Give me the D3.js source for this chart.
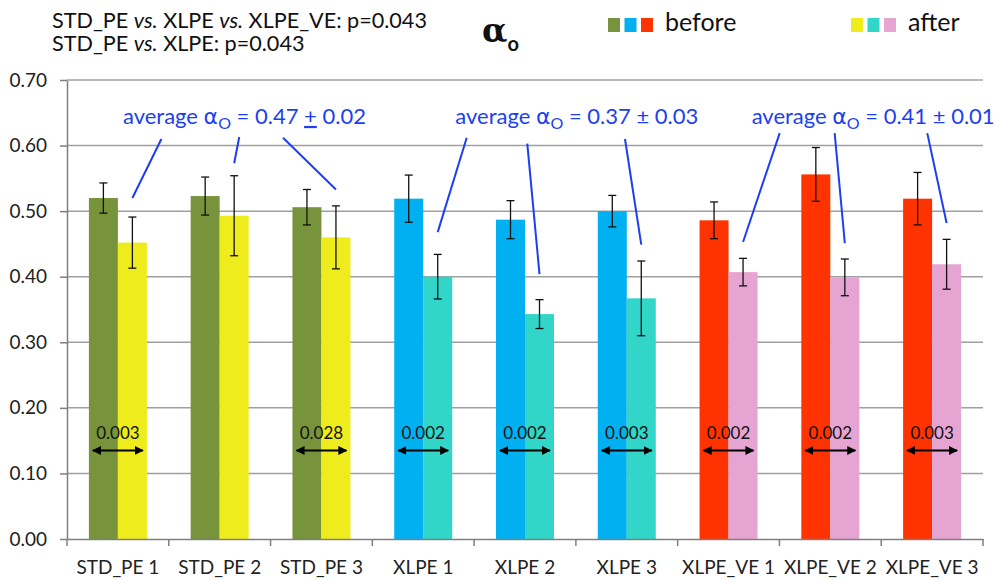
<!DOCTYPE html>
<html>
<head>
<meta charset="utf-8">
<script src="https://cdn.jsdelivr.net/npm/d3@7"></script>
<style>
  html, body { margin: 0; padding: 0; background: #fff; }
  svg { display: block; font-family: Lato, "Open Sans", sans-serif; }
</style>
</head>
<body>
<svg id="chart" width="994" height="580"></svg>
<script>
// ---------- data ----------
const categories = ["STD_PE 1","STD_PE 2","STD_PE 3","XLPE 1","XLPE 2","XLPE 3","XLPE_VE 1","XLPE_VE 2","XLPE_VE 3"];
const families   = ["STD_PE","STD_PE","STD_PE","XLPE","XLPE","XLPE","XLPE_VE","XLPE_VE","XLPE_VE"];
const beforeValues = [0.520, 0.523, 0.506, 0.519, 0.487, 0.500, 0.486, 0.556, 0.519];
const beforeErrors = [0.023, 0.029, 0.027, 0.036, 0.029, 0.024, 0.028, 0.041, 0.040];
const afterValues  = [0.452, 0.493, 0.460, 0.400, 0.343, 0.367, 0.407, 0.399, 0.419];
const afterErrors  = [0.039, 0.061, 0.048, 0.034, 0.022, 0.057, 0.021, 0.028, 0.038];
const pValues = ["0.003", null, "0.028", "0.002", "0.002", "0.003", "0.002", "0.002", "0.003"];
const yTicks = [0, 0.1, 0.2, 0.3, 0.4, 0.5, 0.6, 0.7];
const seriesNames = ["before", "after"];
const beforeColors = {STD_PE: "#77933C", XLPE: "#00B0F0", XLPE_VE: "#FF3300"};
const afterColors  = {STD_PE: "#EFEC1E", XLPE: "#31D6C8", XLPE_VE: "#E6A4D2"};
const averageLabels = [
  {family: "STD_PE",  anchor: "STD_PE 1",  value: "0.47", sd: "0.02", underlinePlus: true},
  {family: "XLPE",    anchor: "XLPE 1",    value: "0.37", sd: "0.03", underlinePlus: false},
  {family: "XLPE_VE", anchor: "XLPE_VE 1", value: "0.41", sd: "0.01", underlinePlus: false}
];
// leader lines: end value (data units) near after bar, start value near label
const leaderEndValues   = [0.520, 0.573, 0.533, 0.468, 0.404, 0.449, 0.453, 0.451, 0.482];
const leaderStartValues = [0.610, 0.613, 0.612, 0.612, 0.603, 0.610, 0.619, 0.619, 0.619];
const leaderStartShift  = [0.285, 0.05, -0.52, 0.285, -0.12, -0.16, 0.36, -0.10, -0.19];
const labelStartShift   = [0.55, 0.815, 0.727];

// ---------- layout ----------
const svg = d3.select("#chart");
const mLeft = 67, mRight = 983, mTop = 80, mBottom = 539;

const x = d3.scaleBand().domain(categories).range([mLeft, mRight]).padding(0);
const xi = d3.scaleBand().domain(seriesNames).range([0, x.bandwidth()]).paddingInner(0).paddingOuter(0.755);
const y = d3.scaleLinear().domain([0, 0.7]).range([mBottom, mTop]);

// gridlines
svg.append("g").selectAll("line").data(yTicks.filter(d => d > 0)).join("line")
  .attr("x1", mLeft).attr("x2", mRight)
  .attr("y1", d => y(d)).attr("y2", d => y(d))
  .attr("stroke", "#a0a0a0").attr("stroke-width", 1.5);

// y axis
const yAxis = svg.append("g").attr("transform", `translate(${mLeft},0)`)
  .call(d3.axisLeft(y).tickValues(yTicks).tickFormat(d3.format(".2f")).tickSize(7).tickSizeOuter(0));
yAxis.select(".domain").attr("stroke", "#7f7f7f").attr("stroke-width", 1.5);
yAxis.selectAll(".tick line").attr("stroke", "#7f7f7f").attr("stroke-width", 1.5);
yAxis.selectAll(".tick text").attr("font-size", 19).attr("fill", "#222").attr("x", -20)
  .style("font-family", "Lato, sans-serif");

// bars
const rows = categories.map((c, i) => ({
  cat: c, fam: families[i],
  vals: [
    {s: "before", v: beforeValues[i], e: beforeErrors[i], col: beforeColors[families[i]]},
    {s: "after",  v: afterValues[i],  e: afterErrors[i],  col: afterColors[families[i]]}
  ]
}));

const groups = svg.append("g").selectAll("g").data(rows).join("g")
  .attr("transform", d => `translate(${x(d.cat)},0)`);

groups.selectAll("rect").data(d => d.vals).join("rect")
  .attr("x", d => xi(d.s)).attr("width", xi.bandwidth())
  .attr("y", d => y(d.v)).attr("height", d => y(0) - y(d.v))
  .attr("fill", d => d.col);

// x axis (drawn after bars)
const xAxis = svg.append("g").attr("transform", `translate(0,${mBottom})`)
  .call(d3.axisBottom(x).tickSize(0).tickPadding(0));
xAxis.select(".domain").attr("stroke", "#7f7f7f").attr("stroke-width", 1.5);
xAxis.selectAll(".tick text").attr("font-size", 19).attr("fill", "#222").attr("dy", 0).attr("y", 35)
  .style("font-family", "Lato, sans-serif");
const boundaries = categories.map(c => x(c)).concat([mRight]);
svg.append("g").selectAll("line").data(boundaries).join("line")
  .attr("x1", d => d).attr("x2", d => d)
  .attr("y1", mBottom).attr("y2", mBottom + 7)
  .attr("stroke", "#7f7f7f").attr("stroke-width", 1.5);

// error bars
const capW = 4;
const eb = groups.selectAll("g.err").data(d => d.vals).join("g").attr("class", "err")
  .attr("stroke", "#111").attr("stroke-width", 1.3);
eb.append("line")
  .attr("x1", d => xi(d.s) + xi.bandwidth() / 2).attr("x2", d => xi(d.s) + xi.bandwidth() / 2)
  .attr("y1", d => y(d.v + d.e)).attr("y2", d => y(d.v - d.e));
eb.append("line")
  .attr("x1", d => xi(d.s) + xi.bandwidth() / 2 - capW).attr("x2", d => xi(d.s) + xi.bandwidth() / 2 + capW)
  .attr("y1", d => y(d.v + d.e)).attr("y2", d => y(d.v + d.e));
eb.append("line")
  .attr("x1", d => xi(d.s) + xi.bandwidth() / 2 - capW).attr("x2", d => xi(d.s) + xi.bandwidth() / 2 + capW)
  .attr("y1", d => y(d.v - d.e)).attr("y2", d => y(d.v - d.e));

// p-value arrows
const defs = svg.append("defs");
defs.append("marker").attr("id", "ah").attr("viewBox", "0 0 10 10").attr("refX", 9).attr("refY", 5)
  .attr("markerWidth", 4.5).attr("markerHeight", 4.5).attr("orient", "auto-start-reverse")
  .append("path").attr("d", "M0,0 L10,5 L0,10 z").attr("fill", "#000");

const pRows = rows.map((r, i) => ({cat: r.cat, p: pValues[i]})).filter(d => d.p);
const pg = svg.append("g").selectAll("g").data(pRows).join("g")
  .attr("transform", d => `translate(${x(d.cat)},0)`);
const gx0 = xi("before"), gx1 = xi("after") + xi.bandwidth();
pg.append("line")
  .attr("x1", gx0 + 4).attr("x2", gx1 - 4)
  .attr("y1", y(0.135)).attr("y2", y(0.135))
  .attr("stroke", "#000").attr("stroke-width", 2)
  .attr("marker-start", "url(#ah)").attr("marker-end", "url(#ah)");
pg.append("text")
  .attr("x", (gx0 + gx1) / 2).attr("y", y(0.152))
  .attr("text-anchor", "middle").attr("font-size", 17).attr("fill", "#111")
  .text(d => d.p);

// leader lines
const blue = "#1C3FF0";
svg.append("g").selectAll("line").data(rows).join("line")
  .attr("x1", (d, i) => x(d.cat) + xi("after") + xi.bandwidth() / 2 + leaderStartShift[i] * x.bandwidth())
  .attr("y1", (d, i) => y(leaderStartValues[i]))
  .attr("x2", d => x(d.cat) + xi("after") + xi.bandwidth() / 2)
  .attr("y2", (d, i) => y(leaderEndValues[i]))
  .attr("stroke", blue).attr("stroke-width", 2);

// average labels
const al = svg.append("g").selectAll("text").data(averageLabels).join("text")
  .attr("x", (d, i) => x(d.anchor) + labelStartShift[i] * x.bandwidth())
  .attr("y", y(0.633))
  .attr("font-size", 22).attr("fill", blue);
al.append("tspan").text("average ");
al.append("tspan").text("\u03B1").attr("font-family", "DejaVu Sans, sans-serif");
al.append("tspan").text("O").attr("font-size", 16).attr("dy", 5);
al.append("tspan").text(" = " ).attr("dy", -5);
al.append("tspan").text(d => d.value + " ");
al.append("tspan").text(d => d.underlinePlus ? "+" : "\u00B1")
  .style("text-decoration", d => d.underlinePlus ? "underline" : "none");
al.append("tspan").text(d => " " + d.sd);

// top-left p-value text
const tl = svg.append("g").attr("font-size", 21.6).attr("fill", "#111");
const t1 = tl.append("text").attr("x", 52).attr("y", 28);
t1.append("tspan").text("STD_PE ");
t1.append("tspan").text("vs.").attr("font-style", "italic");
t1.append("tspan").text(" XLPE ");
t1.append("tspan").text("vs.").attr("font-style", "italic");
t1.append("tspan").text(" XLPE_VE: p=0.043");
const t2 = tl.append("text").attr("x", 52).attr("y", 51);
t2.append("tspan").text("STD_PE ");
t2.append("tspan").text("vs.").attr("font-style", "italic");
t2.append("tspan").text(" XLPE: p=0.043");

// title
const title = svg.append("text").attr("x", 482).attr("y", 42).attr("font-weight", "bold").attr("fill", "#111");
title.append("tspan").text("\u03B1").attr("font-size", 33).attr("font-family", "DejaVu Serif, serif");
title.append("tspan").text("o").attr("font-size", 20).attr("dy", 9).attr("font-family", "Lato, sans-serif");

// legend
const legendSets = [
  {label: "before", colors: [beforeColors.STD_PE, beforeColors.XLPE, beforeColors.XLPE_VE], x: 608},
  {label: "after",  colors: [afterColors.STD_PE, afterColors.XLPE, afterColors.XLPE_VE], x: 851}
];
const lg = svg.append("g").selectAll("g").data(legendSets).join("g")
  .attr("transform", d => `translate(${d.x},18)`);
lg.selectAll("rect").data(d => d.colors).join("rect")
  .attr("x", (d, i) => i * 16.5).attr("y", 0).attr("width", 12).attr("height", 14)
  .attr("fill", d => d);
lg.append("text").attr("x", 57).attr("y", 13).attr("font-size", 25).attr("fill", "#111")
  .text(d => d.label);
</script>
</body>
</html>
